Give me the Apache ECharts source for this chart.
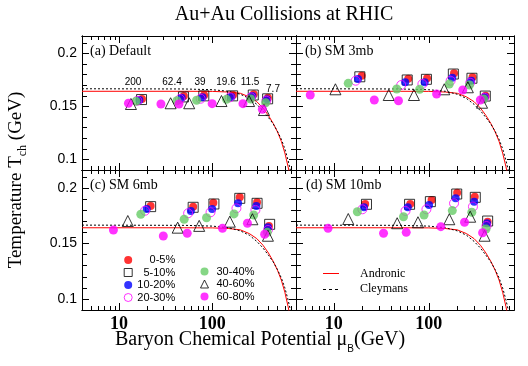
<!DOCTYPE html>
<html><head><meta charset="utf-8">
<script src="https://cdn.jsdelivr.net/npm/echarts@6/dist/echarts.min.js"></script>
<style>html,body{margin:0;padding:0;background:#fff}#c{width:528px;height:366px}</style>
</head><body><div id="c"></div>
<script>
// ---------------- data ----------------
const centralities = ['0-5%','5-10%','10-20%','20-30%','30-40%','40-60%','60-80%'];
const energies = ['200','62.4','39','19.6','11.5','7.7'];
const panelTitles = ['(a) Default','(b) SM 3mb','(c) SM 6mb','(d) SM 10mb'];
const xTickLabels = [10, 100];
const yTickLabels = [0.1, 0.15, 0.2];

// rows: centralities, columns: energies (200 ... 7.7)
const muDefault = [
  [17.6,49.5,81.7,167,278,395],
  [17.4,49,81,165,275,392],
  [16.5,46.9,78.5,160,269,385],
  [15.7,45,75,154,260,380],
  [15.2,41.7,67.8,141.8,258,373],
  [13.4,35.7,56.5,125.4,248,358],
  [12.6,28.1,43.9,99.6,213,344]
];
const tDefault = [
  [0.157,0.1598,0.1605,0.1608,0.1614,0.1582],
  [0.1565,0.159,0.160,0.160,0.1608,0.1572],
  [0.156,0.1582,0.1586,0.1592,0.1598,0.1567],
  [0.1554,0.157,0.1573,0.1586,0.1586,0.1554],
  [0.155,0.1554,0.1558,0.1567,0.157,0.1535],
  [0.1523,0.153,0.153,0.1551,0.1551,0.1466],
  [0.153,0.1523,0.1523,0.1526,0.1526,0.1473]
];
const muSM3 = [
  [19.7,60.8,96,184.5,289,397],
  [18.8,59.3,94.5,181.5,285,394],
  [18.0,56.5,90.6,177,280,391],
  [17.0,51.3,85.7,170,273,385],
  [14.2,46,80.2,164.5,268.5,379],
  [10.4,37.9,69.8,145.6,258,364],
  [5.65,26.7,48,121,228,349]
];
const tSM3 = [
  [0.179,0.1762,0.1766,0.1813,0.1775,0.160],
  [0.178,0.175,0.1756,0.1806,0.1766,0.1598],
  [0.1759,0.1728,0.1728,0.1771,0.1743,0.1592],
  [0.1743,0.1702,0.1712,0.1743,0.1724,0.1582],
  [0.1718,0.1665,0.1662,0.1712,0.1702,0.157],
  [0.1662,0.1608,0.1608,0.1662,0.1681,0.1535],
  [0.1608,0.1561,0.1554,0.1617,0.1655,0.1561]
];
const muSM6 = [
  [21.8,62.3,102.6,197,302,405],
  [21.8,62.3,104,197,302,412],
  [19.8,58.9,99.6,189,297,395],
  [19.0,55,95.7,181.5,290,395],
  [17.1,49.9,86.7,171,278,389],
  [12.4,42.5,72.3,154,269,395],
  [8.69,29.8,53.8,128.5,238,364]
];
const tSM6 = [
  [0.184,0.1834,0.187,0.1918,0.1873,0.1659],
  [0.1834,0.1828,0.1858,0.1909,0.1864,0.1674],
  [0.1813,0.1795,0.1813,0.1864,0.184,0.1647],
  [0.1797,0.1774,0.1783,0.1819,0.1804,0.1623],
  [0.1765,0.172,0.1734,0.1768,0.1758,0.1602],
  [0.1704,0.1644,0.166,0.1698,0.172,0.1571],
  [0.1623,0.1569,0.1593,0.1638,0.1684,0.1584]
];
const muSM10 = [
  [21.4,63.8,107,199,305,417],
  [22.1,62.8,104,197,309,417],
  [20.8,60.2,100.8,192,301,411],
  [20,56.9,94.5,184.5,292,405],
  [17.7,54.2,89.2,177,284,401],
  [14.2,46.5,77,164.5,273,387],
  [8.7,33.4,57.9,134,238,369]
];
const tSM10 = [
  [0.1858,0.1858,0.1894,0.196,0.1924,0.1698],
  [0.1855,0.1855,0.1879,0.1948,0.1918,0.1704],
  [0.1828,0.1828,0.1849,0.1909,0.1879,0.1684],
  [0.181,0.1795,0.181,0.1864,0.1834,0.1659],
  [0.1788,0.1743,0.1758,0.1798,0.1783,0.1632],
  [0.1722,0.1684,0.1693,0.172,0.1743,0.1571],
  [0.1638,0.1593,0.1602,0.1653,0.1693,0.1598]
];
const andronicMu = [4,50,100,150,200,250,300,350,400,450,500,550,600,650,700];
const andronicT  = [0.1643,0.1643,0.1642,0.1636,0.1624,0.159,0.1545,0.1485,0.1415,0.134,0.126,0.117,0.106,0.093,0.08];
const cleymansMu = [4,50,100,150,200,250,300,350,400,450,500,550,600,650,700];
const cleymansT  = [0.1667,0.1665,0.1658,0.1643,0.1615,0.1575,0.152,0.146,0.1395,0.1335,0.1265,0.119,0.11,0.099,0.087];

// ---------------- layout / style ----------------
const panelsMu = [muDefault, muSM3, muSM6, muSM10];
const panelsT = [tDefault, tSM3, tSM6, tSM10];
const grids = [
  {left:82, top:36, width:214, height:134},
  {left:296, top:36, width:218, height:134},
  {left:82, top:170, width:214, height:140},
  {left:296, top:170, width:218, height:140}
];
const markerStyles = [
  {symbol:'circle', size:8, itemStyle:{color:'#ff0000'}},
  {symbol:'rect', size:10, itemStyle:{color:'rgba(0,0,0,0)', borderColor:'#000', borderWidth:1}},
  {symbol:'circle', size:8, itemStyle:{color:'#0000ff'}},
  {symbol:'circle', size:9, itemStyle:{color:'rgba(0,0,0,0)', borderColor:'#ff00ff', borderWidth:1}},
  {symbol:'circle', size:9, itemStyle:{color:'#66cc66'}},
  {symbol:'triangle', size:11, itemStyle:{color:'rgba(0,0,0,0)', borderColor:'#000', borderWidth:1}},
  {symbol:'circle', size:9, itemStyle:{color:'#ff00ff'}}
];
const RED = '#ff0000', DASH = [2,2];
const xMinor = [5,6,7,8,9,20,30,40,50,60,70,80,90,200,300,400,500,600,700];
const xMajor = xTickLabels;
const yMinor = [0.1,0.11,0.12,0.13,0.14,0.15,0.16,0.17,0.18,0.19,0.2,0.21];
const yMajor = yTickLabels;
const XMIN = 4, XMAX = 790, YMIN = 0.09, YMAX = 0.2165;

const xAxes = [], yAxes = [];
grids.forEach((g, gi) => {
  const isBottom = gi >= 2, isLeft = gi % 2 === 0;
  [['bottom', xMinor, 4, false], ['bottom', xMajor, 7, isBottom], ['top', xMinor, 4, false], ['top', xMajor, 7, false]]
  .forEach(([pos, vals, len, lab]) => {
    xAxes.push({
      type:'log', gridIndex:gi, min:XMIN, max:XMAX, position:pos,
      axisLine:{show:true, onZero:false, lineStyle:{color:'#000', width:1}},
      axisTick:{show:true, inside:true, length:len, customValues:vals, lineStyle:{color:'#000', width:1}},
      axisLabel:{show:lab, customValues:xTickLabels, margin:5, color:'#000',
        fontFamily:'Liberation Serif', fontSize:18, fontWeight:'bold'},
      splitLine:{show:false}, minorTick:{show:false}
    });
  });
  [['left', yMinor, 5, false], ['left', yMajor, 7, isLeft], ['right', yMinor, 5, false], ['right', yMajor, 7, false]]
  .forEach(([pos, vals, len, lab]) => {
    yAxes.push({
      type:'value', gridIndex:gi, min:YMIN, max:YMAX, position:pos,
      axisLine:{show:true, onZero:false, lineStyle:{color:'#000', width:1}},
      axisTick:{show:true, inside:true, length:len, customValues:vals, lineStyle:{color:'#000', width:1}},
      axisLabel:{show:lab, customValues:yTickLabels, margin:5, color:'#000',
        fontFamily:'Liberation Sans', fontSize:14, formatter:v => String(+(+v).toFixed(2))},
      splitLine:{show:false}, minorTick:{show:false}
    });
  });
});

const series = [];
grids.forEach((g, gi) => {
  series.push({
    type:'line', name:'Andronic', xAxisIndex:4*gi, yAxisIndex:4*gi,
    data: andronicMu.map((m, i) => [m, andronicT[i]]),
    symbol:'none', showSymbol:false, clip:true, smooth:false,
    lineStyle:{color:RED, width:1}, itemStyle:{color:RED}, z:2
  });
  series.push({
    type:'line', name:'Cleymans', xAxisIndex:4*gi, yAxisIndex:4*gi,
    data: cleymansMu.map((m, i) => [m, cleymansT[i]]),
    symbol:'none', showSymbol:false, clip:true,
    lineStyle:{color:'#000', width:1, type:DASH}, itemStyle:{color:'#000'}, z:2
  });
  centralities.forEach((c, ci) => {
    const st = markerStyles[ci];
    series.push({
      type:'scatter', name:c, xAxisIndex:4*gi, yAxisIndex:4*gi,
      data: panelsMu[gi][ci].map((m, i) => [m, panelsT[gi][ci][i]]),
      symbol:st.symbol, symbolSize:st.size, itemStyle:st.itemStyle, z:3
    });
  });
});

const serif = 'Liberation Serif';
const graphic = [
  {type:'text', x:284, y:15, style:{text:'Au+Au Collisions at RHIC', font:'20px "Liberation Serif"', fill:'#000', align:'center', verticalAlign:'middle'}},
  {type:'text', x:260, y:340, style:{
    text:'{a|Baryon Chemical Potential \u03bc}{s|B}{a|(GeV)}',
    rich:{a:{fontFamily:serif, fontSize:20, lineHeight:28, verticalAlign:'middle', fill:'#000'},
          s:{fontFamily:'Liberation Sans', fontSize:10, lineHeight:28, verticalAlign:'bottom', fill:'#000'}},
    align:'center', verticalAlign:'middle'}},
  {type:'text', x:16, y:180, rotation:Math.PI/2, style:{
    text:'{a|Temperature T}{s|ch}{a| (GeV)}',
    rich:{a:{fontFamily:serif, fontSize:19, lineHeight:26, verticalAlign:'middle', fill:'#000'},
          s:{fontFamily:serif, fontSize:12, lineHeight:26, verticalAlign:'bottom', fill:'#000'}},
    align:'center', verticalAlign:'middle'}},
  // legend keys for the two curves (line samples beside the legend text)
  {type:'line', z:100, shape:{x1:323, y1:273.5, x2:339, y2:273.5}, style:{stroke:RED, lineWidth:1}},
  {type:'line', z:100, shape:{x1:323, y1:289.5, x2:339, y2:289.5}, style:{stroke:'#000', lineWidth:1, lineDash:[3,3]}}
];
const panelLabelPos = [[90,51],[305,51],[90,185],[306,185]];
panelTitles.forEach((t, i) => graphic.push({type:'text', x:panelLabelPos[i][0], y:panelLabelPos[i][1],
  style:{text:t, font:'14px "Liberation Serif"', fill:'#000', align:'left', verticalAlign:'middle'}}));
const energyLabelPos = [[133,82],[172,82],[200,82],[226,82],[250,82],[273,89]];
energies.forEach((e, i) => graphic.push({type:'text', x:energyLabelPos[i][0], y:energyLabelPos[i][1],
  style:{text:e, font:'10px "Liberation Sans"', fill:'#000', align:'center', verticalAlign:'middle'}}));

const option = {
  animation:false,
  backgroundColor:'#fff',
  grid: grids.map(g => Object.assign({containLabel:false, outerBoundsMode:'none'}, g)),
  xAxis: xAxes, yAxis: yAxes, series,
  legend: [
    {data:centralities.slice(0,4), orient:'vertical', left:123.7, top:254.5, padding:0, itemWidth:8, itemHeight:8, itemGap:1.5,
     selectedMode:false, formatter:'{r|{name}}', itemStyle:{borderWidth:1},
     textStyle:{color:'#000', lineHeight:11, rich:{r:{fontFamily:'Liberation Sans', fontSize:11, lineHeight:11, width:38, align:'right'}}}},
    {data:centralities.slice(4), orient:'vertical', left:200, top:266, padding:0, itemWidth:8, itemHeight:8, itemGap:1.5,
     selectedMode:false, itemStyle:{borderWidth:1},
     textStyle:{color:'#000', fontFamily:'Liberation Sans', fontSize:11, lineHeight:11, padding:[0,0,0,3]}},
    {data:[
       {name:'Andronic', icon:'rect', itemStyle:{opacity:0}, lineStyle:{opacity:0}},
       {name:'Cleymans', icon:'rect', itemStyle:{opacity:0}, lineStyle:{opacity:0}}
     ], orient:'vertical', left:323, top:267.5, padding:0, itemWidth:16, itemHeight:12, itemGap:3.7,
     selectedMode:false, itemStyle:{opacity:0}, lineStyle:{opacity:0},
     textStyle:{color:'#000', fontFamily:serif, fontSize:12, lineHeight:12, padding:[0,0,0,16]}}
  ],
  graphic
};
const chart = echarts.init(document.getElementById('c'), null, {renderer:'canvas'});
chart.setOption(option);
</script></body></html>
